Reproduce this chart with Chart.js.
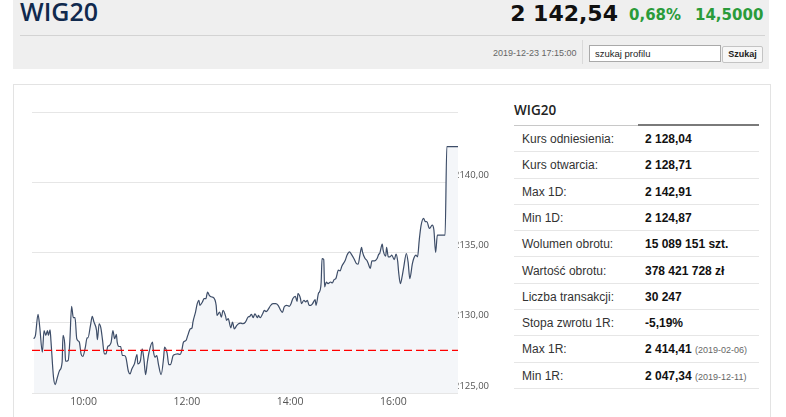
<!DOCTYPE html>
<html>
<head>
<meta charset="utf-8">
<script src="https://cdn.jsdelivr.net/npm/chart.js@4"></script>
<style>
  body { margin: 0; width: 786px; height: 417px; overflow: hidden; background: #fff; font-family: "Liberation Sans", Arial, sans-serif; position: relative; }
  .abs { position: absolute; white-space: nowrap; }
  #head { left: 13px; top: 0; width: 756px; height: 69px; background: #efefef; }
  #title { left: 20px; top: -1.5px; font: 600 25px/25px "Open Sans", sans-serif; color: #10294d; }
  #price { right: 168px; top: 3.4px; font: bold 22px/22px "DejaVu Sans", sans-serif; color: #111; }
  .chg { top: 8.3px; font: bold 15px/15px "DejaVu Sans", sans-serif; color: #2a9b3a; }
  #hline { left: 20px; top: 35px; width: 745px; height: 1px; background: #d3d3d3; }
  #date { left: 493px; top: 49.4px; font-size: 9px; line-height: 9px; color: #666; }
  #sep { left: 582px; top: 40px; width: 1px; height: 24px; background: #d9d9d9; }
  #search { left: 589px; top: 45px; width: 125px; height: 15px; border: 1px solid #a9a9a9; background: #fff; font-size: 9.5px; line-height: 15px; padding-left: 5px; box-sizing: content-box; color: #222; }
  #btn { left: 722px; top: 46px; width: 39px; height: 15px; border: 1px solid #c4c4c4; border-radius: 2px; background: #f7f7f7; font: bold 9px/15px "Liberation Sans", Arial, sans-serif; text-align: center; color: #222; }
  #box { left: 13px; top: 84px; width: 756px; height: 345px; border: 1px solid #e3e3e3; }
  #wrap { left: 13px; top: 86px; width: 492px; height: 331px; }
  #thead { left: 514px; top: 103px; font: 600 13.5px/14px "Open Sans", sans-serif; color: #222; }
  #ul1 { left: 514px; top: 124.5px; width: 124px; height: 1px; background: #c8c8c8; }
  #ul2 { left: 638px; top: 124px; width: 121px; height: 2px; background: #7a7a7a; }
  .row { left: 514px; width: 245px; height: 25.3px; border-bottom: 1px solid #e6e6e6; font-size: 12px; line-height: 26px; }
  .row .l { position: absolute; left: 8px; color: #333; }
  .row .v { position: absolute; left: 131px; color: #111; font-weight: bold; }
  .row .d { font-weight: normal; font-size: 9px; color: #666; }
</style>
</head>
<body>
<div class="abs" id="head"></div>
<div class="abs" id="title">WIG20</div>
<div class="abs" id="price">2 142,54</div>
<div class="abs chg" style="left:629px">0,68%</div>
<div class="abs chg" style="left:695px">14,5000</div>
<div class="abs" id="hline"></div>
<div class="abs" id="date">2019-12-23 17:15:00</div>
<div class="abs" id="sep"></div>
<div class="abs" id="search">szukaj profilu</div>
<div class="abs" id="btn">Szukaj</div>

<div class="abs" id="box"></div>
<div class="abs" id="wrap"><canvas id="chart"></canvas></div>

<div class="abs" id="thead">WIG20</div>
<div class="abs" id="ul1"></div>
<div class="abs" id="ul2"></div>
<div class="abs row" style="top:126px"><span class="l">Kurs odniesienia:</span><span class="v">2 128,04</span></div>
<div class="abs row" style="top:152.3px"><span class="l">Kurs otwarcia:</span><span class="v">2 128,71</span></div>
<div class="abs row" style="top:178.6px"><span class="l">Max 1D:</span><span class="v">2 142,91</span></div>
<div class="abs row" style="top:204.9px"><span class="l">Min 1D:</span><span class="v">2 124,87</span></div>
<div class="abs row" style="top:231.2px"><span class="l">Wolumen obrotu:</span><span class="v">15 089 151 szt.</span></div>
<div class="abs row" style="top:257.5px"><span class="l">Wartość obrotu:</span><span class="v">378 421 728 zł</span></div>
<div class="abs row" style="top:283.8px"><span class="l">Liczba transakcji:</span><span class="v">30 247</span></div>
<div class="abs row" style="top:310.1px"><span class="l">Stopa zwrotu 1R:</span><span class="v">-5,19%</span></div>
<div class="abs row" style="top:336.4px"><span class="l">Max 1R:</span><span class="v">2 414,41 <span class="d">(2019-02-06)</span></span></div>
<div class="abs row" style="top:362.7px"><span class="l">Min 1R:</span><span class="v">2 047,34 <span class="d">(2019-12-11)</span></span></div>

<script>
// WIG20 intraday, 2019-12-23
const times = [
  "09:02","09:04","09:07","09:09","09:12","09:14","09:16","09:18","09:19","09:21",
  "09:22","09:25","09:27","09:29","09:32","09:35","09:36","09:38","09:39","09:42",
  "09:44","09:46","09:48","09:50","09:52","09:55","09:57","09:59","10:02","10:04",
  "10:05","10:08","10:10","10:12","10:15","10:16","10:18","10:20","10:22","10:24",
  "10:26","10:28","10:30","10:32","10:34","10:36","10:38","10:39","10:41","10:43",
  "10:45","10:47","10:49","10:52","10:54","10:56","10:59","11:02","11:03","11:06",
  "11:08","11:10","11:12","11:14","11:16","11:20","11:21","11:23","11:25","11:27",
  "11:30","11:33","11:34","11:37","11:39","11:41","11:44","11:46","11:49","11:52",
  "11:54","11:56","11:59","12:01","12:04","12:06","12:07","12:10","12:12","12:14",
  "12:15","12:18","12:20","12:22","12:24","12:26","12:29","12:31","12:34","12:35",
  "12:38","12:40","12:42","12:45","12:46","12:48","12:51","12:53","12:55","12:58",
  "13:00","13:02","13:05","13:08","13:11","13:13","13:15","13:17","13:19","13:22",
  "13:23","13:25","13:28","13:30","13:32","13:35","13:37","13:40","13:43","13:46",
  "13:49","13:51","13:53","13:56","13:59","14:01","14:03","14:06","14:08","14:09",
  "14:12","14:13","14:16","14:18","14:20","14:22","14:24","14:26","14:29","14:30",
  "14:33","14:34","14:36","14:37","14:39","14:40","14:42","14:44","14:47","14:49",
  "14:51","14:53","14:56","14:58","15:00","15:04","15:06","15:09","15:11","15:14",
  "15:17","15:19","15:21","15:23","15:24","15:27","15:29","15:31","15:33","15:35",
  "15:38","15:41","15:43","15:44","15:47","15:48","15:51","15:52","15:54","15:56",
  "15:58","16:01","16:03","16:05","16:06","16:08","16:10","16:12","16:15","16:17",
  "16:19","16:22","16:24","16:26","16:28","16:30","16:32","16:35","16:37","16:39",
  "16:41","16:42","16:45","16:47","16:49","16:51","17:00","17:02","17:15"
];
const values = [
  2128.86, 2129.10, 2130.60, 2129.70, 2127.90, 2129.45, 2129.10, 2129.45, 2129.10, 2129.50,
  2128.74, 2126.12, 2125.60, 2126.00, 2126.60, 2127.20, 2129.10, 2128.50, 2127.26, 2127.31,
  2128.74, 2131.17, 2130.36, 2130.36, 2128.86, 2128.62, 2127.79, 2127.60, 2128.26, 2128.93,
  2128.93, 2129.83, 2130.45, 2130.05, 2129.45, 2128.79, 2129.93, 2129.64, 2128.74, 2127.79,
  2127.79, 2128.31, 2128.38, 2128.62, 2129.45, 2128.86, 2129.17, 2128.62, 2128.31, 2128.31,
  2127.67, 2127.67, 2127.55, 2126.55, 2126.36, 2126.71, 2127.07, 2127.74, 2127.07, 2127.31,
  2128.14, 2127.43, 2126.31, 2127.19, 2127.90, 2128.62, 2128.02, 2127.55, 2127.67, 2127.02,
  2126.31, 2127.55, 2128.26, 2127.83, 2127.02, 2127.02, 2127.67, 2127.74, 2127.79, 2127.74,
  2128.02, 2128.62, 2128.74, 2129.10, 2129.57, 2129.64, 2130.05, 2130.76, 2131.36, 2131.60,
  2131.24, 2131.48, 2131.71, 2131.71, 2132.19, 2131.95, 2131.83, 2131.79, 2131.24, 2130.52,
  2130.76, 2130.40, 2130.88, 2130.45, 2130.17, 2130.29, 2129.64, 2130.05, 2129.57, 2129.81,
  2129.93, 2129.98, 2129.93, 2130.05, 2130.40, 2130.45, 2130.60, 2130.36, 2130.64, 2130.36,
  2130.52, 2130.36, 2130.64, 2130.88, 2130.79, 2131.00, 2131.21, 2131.36, 2131.36, 2131.24,
  2130.88, 2130.74, 2131.12, 2131.24, 2131.17, 2131.36, 2131.71, 2131.88, 2131.52, 2132.07,
  2131.71, 2131.36, 2131.60, 2131.48, 2131.60, 2131.24, 2131.24, 2131.36, 2131.64, 2131.24,
  2132.12, 2132.19, 2132.90, 2134.57, 2134.50, 2132.55, 2132.90, 2132.79, 2132.90, 2132.83,
  2133.07, 2133.14, 2133.74, 2133.69, 2134.02, 2134.45, 2134.81, 2135.05, 2134.88, 2134.57,
  2134.21, 2134.17, 2134.81, 2135.36, 2135.05, 2134.57, 2134.45, 2134.17, 2133.86, 2134.40,
  2134.40, 2134.57, 2134.88, 2134.93, 2135.60, 2135.17, 2134.74, 2135.36, 2134.69, 2134.69,
  2134.81, 2134.50, 2134.88, 2134.33, 2133.62, 2132.79, 2133.26, 2133.98, 2134.93, 2134.33,
  2133.14, 2134.21, 2134.64, 2134.81, 2134.69, 2135.90, 2136.90, 2137.43, 2137.20, 2137.19,
  2136.80, 2136.71, 2136.95, 2136.60, 2135.00, 2136.24, 2136.24, 2142.54, 2142.54
];
const refLevel = 2128.04;        // kurs odniesienia
const xTicks = ["10:00", "12:00", "14:00", "16:00"];
const yTicks = [2125, 2130, 2135, 2140, 2145];
const sessionStart = "09:00", sessionEnd = "17:15";

function toMin(t) {
  const p = t.split(":");
  return (+p[0]) * 60 + (+p[1]) - 540;
}
function fmtTime(m) {
  const h = Math.floor((m + 540) / 60), mm = (m + 540) % 60;
  return h + ":" + String(mm).padStart(2, "0");
}

const ctx = document.getElementById("chart").getContext("2d");
new Chart(ctx, {
  type: "line",
  data: {
    datasets: [{
      data: times.map((t, i) => ({ x: toMin(t), y: values[i] })),
      borderColor: "#3d4d68",
      borderWidth: 1.2,
      backgroundColor: "#f4f6f9",
      fill: "start",
      pointRadius: 0,
      cubicInterpolationMode: "monotone",
      order: 1
    }, {
      data: [{ x: toMin(sessionStart), y: refLevel }, { x: toMin(sessionEnd), y: refLevel }],
      borderColor: "#ff0000",
      borderWidth: 1.3,
      borderDash: [8, 4],
      pointRadius: 0,
      fill: false,
      order: 0
    }]
  },
  options: {
    animation: false,
    responsive: true,
    maintainAspectRatio: false,
    layout: { padding: { left: 19, top: 26, right: 0, bottom: 0 } },
    plugins: { legend: { display: false }, tooltip: { enabled: false } },
    scales: {
      x: {
        type: "linear",
        min: toMin(sessionStart),
        max: toMin(sessionEnd),
        afterBuildTicks: s => { s.ticks = xTicks.map(t => ({ value: toMin(t) })); },
        afterFit: s => { s.height = 24; },
        grid: { display: false, drawTicks: false },
        border: { display: false },
        ticks: {
          callback: v => fmtTime(v),
          color: "#555",
          font: { family: "Open Sans", size: 10.5 },
          padding: 3,
          maxRotation: 0
        }
      },
      y: {
        position: "right",
        min: yTicks[0],
        max: yTicks[yTicks.length - 1],
        afterBuildTicks: s => { s.ticks = yTicks.map(v => ({ value: v })); },
        afterFit: s => { s.width = 47; s.paddingTop = 0; s.paddingBottom = 0; },
        grid: { color: "#e6e6e6", drawTicks: false },
        border: { display: false },
        ticks: {
          callback: v => v >= 2145 ? "" : v.toFixed(2).replace(".", ","),
          color: "#555",
          font: { family: "Open Sans", size: 9.5 },
          padding: -4,
          labelOffset: -7
        }
      }
    }
  }
});
</script>
</body>
</html>
